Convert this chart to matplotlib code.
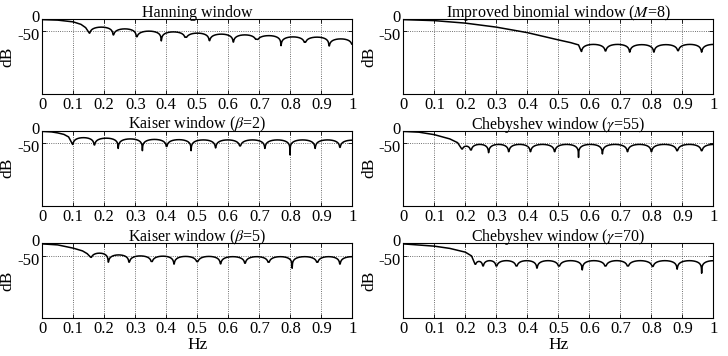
import numpy as np
import matplotlib
matplotlib.use('Agg')
import matplotlib.pyplot as plt
import matplotlib.transforms as mtransforms

plt.rcParams['font.family'] = ['Liberation Serif', 'DejaVu Serif']
plt.rcParams['mathtext.fontset'] = 'stix'
plt.rcParams['font.size'] = 11

#####################################################################
# values (Hz, dB)
#####################################################################
# Hanning window
hann_main_x = [0, 0.05, 0.10, 0.125, 0.14, 0.152]
hann_main_db = [-3, -5, -12, -22, -35, -57]
hann_nulls = [0.152, 0.229, 0.304, 0.384, 0.462, 0.539, 0.616, 0.691, 0.770, 0.847, 0.925, 1.0]
hann_null_db = [-57, -64, -71, -88, -73, -87, -93, -81, -107, -93, -108, -101]
hann_peak_db = [-33, -40, -49, -52, -57, -61, -64, -67, -72, -73, -80]

# improved binomial window (M=8)
binom_main_x = [0, 0.1, 0.2, 0.3, 0.4, 0.5, 0.54, 0.565, 0.574]
binom_main_db = [-3, -7, -17, -33, -55, -84, -95, -104, -130]
binom_nulls = [0.574, 0.652, 0.730, 0.808, 0.886, 0.962, 1.04]
binom_null_db = [-130, -128, -133, -133, -127, -133, -130]
binom_peak_db = [-102, -102, -103, -103, -102, -102]

# Kaiser window (beta=2)
k2_main_x = [0, 0.03, 0.05, 0.07, 0.085, 0.098]
k2_main_db = [-3, -5, -9, -15, -25, -55]
k2_nulls = [0.098, 0.168, 0.245, 0.323, 0.401, 0.480, 0.559, 0.638, 0.718, 0.799, 0.880, 0.960, 1.04]
k2_null_db = [-55, -57, -71, -80, -63, -80, -69, -61, -71, -97, -71, -67, -60]
k2_peak_db = [-28, -30, -33, -35, -36, -37, -37, -37, -37, -37, -37, -38]

# Chebyshev window (gamma=55)
c55_main_x = [0, 0.05, 0.10, 0.15, 0.175, 0.188]
c55_main_db = [-3, -6, -16, -33, -48, -73]
c55_nulls = [0.188, 0.218, 0.275, 0.340, 0.410, 0.488, 0.565, 0.642, 0.723, 0.800, 0.883, 0.962, 1.04]
c55_null_db = [-73, -77, -88, -84, -84, -84, -107, -93, -84, -84, -80, -80, -80]
c55_peak_db = [-62, -55, -55, -55, -55, -55, -55, -55, -55, -55, -55, -55]

# Kaiser window (beta=5)
k5_main_x = [0, 0.05, 0.10, 0.13, 0.145, 0.156]
k5_main_db = [-3, -7, -20, -31, -42, -56]
k5_nulls = [0.156, 0.213, 0.280, 0.353, 0.425, 0.500, 0.575, 0.654, 0.730, 0.806, 0.887, 0.960, 1.04]
k5_null_db = [-56, -76, -76, -73, -84, -73, -83, -80, -76, -100, -76, -84, -70]
k5_peak_db = [-40, -47, -51, -52, -53, -53, -54, -54, -54, -54, -54, -54]

# Chebyshev window (gamma=70)
c70_main_x = [0, 0.10, 0.15, 0.20, 0.22, 0.231]
c70_main_db = [-3, -12, -21, -36, -51, -84]
c70_nulls = [0.231, 0.257, 0.300, 0.365, 0.431, 0.502, 0.577, 0.652, 0.724, 0.804, 0.883, 0.962, 1.04]
c70_null_db = [-84, -91, -91, -91, -100, -91, -107, -91, -91, -93, -104, -120, -90]
c70_peak_db = [-73, -70, -70, -70, -70, -70, -70, -70, -70, -70, -70, -70]

titles = ['Hanning window', r'Improved binomial window ($M$=8)',
          r'Kaiser window ($\beta$=2)', r'Chebyshev window ($\gamma$=55)',
          r'Kaiser window ($\beta$=5)', r'Chebyshev window ($\gamma$=70)']
x_ticks = [0, 0.1, 0.2, 0.3, 0.4, 0.5, 0.6, 0.7, 0.8, 0.9, 1]
x_tick_labels = ['0', '0.1', '0.2', '0.3', '0.4', '0.5', '0.6', '0.7', '0.8', '0.9', '1']
y_ticks = [-50, 0]
y_tick_labels = ['-50', '0']


def sidelobes(nulls, null_db, peak_db, n=80):
    # arc between two nulls, cusp down to the null depth
    xs, ys = [], []
    for i in range(len(nulls) - 1):
        t = np.linspace(0, 1, n)
        x = nulls[i] + t * (nulls[i + 1] - nulls[i])
        arc = peak_db[i] + 20 * np.log10(np.maximum(np.sin(np.pi * t), 1e-9))
        floor = null_db[i] + t * (null_db[i + 1] - null_db[i])
        xs.append(x)
        ys.append(np.maximum(arc, floor))
    return np.concatenate(xs), np.concatenate(ys)


panels = [
    (hann_main_x, hann_main_db, hann_nulls, hann_null_db, hann_peak_db),
    (binom_main_x, binom_main_db, binom_nulls, binom_null_db, binom_peak_db),
    (k2_main_x, k2_main_db, k2_nulls, k2_null_db, k2_peak_db),
    (c55_main_x, c55_main_db, c55_nulls, c55_null_db, c55_peak_db),
    (k5_main_x, k5_main_db, k5_nulls, k5_null_db, k5_peak_db),
    (c70_main_x, c70_main_db, c70_nulls, c70_null_db, c70_peak_db),
]

fig = plt.figure(figsize=(7.28, 3.56), dpi=100)
lefts = [0.058, 0.554]
bottoms = [0.736, 0.422, 0.106]
w, h = 0.426, 0.211
# small nudges so the two crowded y labels do not collide
nudge_down = mtransforms.ScaledTranslation(0, -2.2 / 72, fig.dpi_scale_trans)
nudge_up = mtransforms.ScaledTranslation(0, 2.2 / 72, fig.dpi_scale_trans)

for i, (mx, mdb, nulls, ndb, pdb) in enumerate(panels):
    row, col = i // 2, i % 2
    ax = fig.add_axes([lefts[col], bottoms[row], w, h])
    lx, ly = sidelobes(nulls, ndb, pdb)
    x = np.concatenate([mx, lx])
    y = np.concatenate([mdb, ly])
    ax.plot(x, y, color='k', linewidth=1.1)
    ax.set_xlim(0, 1)
    ax.set_ylim(-300, 0)
    ax.set_xticks(x_ticks)
    ax.set_xticklabels(x_tick_labels)
    ax.set_yticks(y_ticks)
    ax.set_yticklabels(y_tick_labels)
    ax.grid(True, linestyle=':', color='0.25', linewidth=0.6)
    ax.tick_params(direction='in', top=True, right=True, length=3, pad=2,
                   width=0.6, labelsize=12)
    ylabs = ax.get_yticklabels()
    ylabs[0].set_transform(ylabs[0].get_transform() + nudge_down)
    ylabs[1].set_transform(ylabs[1].get_transform() + nudge_up)
    for s in ax.spines.values():
        s.set_linewidth(0.8)
    ax.set_title(titles[i], pad=1.5, fontsize=11.5)
    ax.set_ylabel('dB', labelpad=1, fontsize=12.5)
    if row == 2:
        ax.set_xlabel('Hz', labelpad=0, fontsize=12.5)

fig.savefig('out.png', dpi=100, facecolor='white')
